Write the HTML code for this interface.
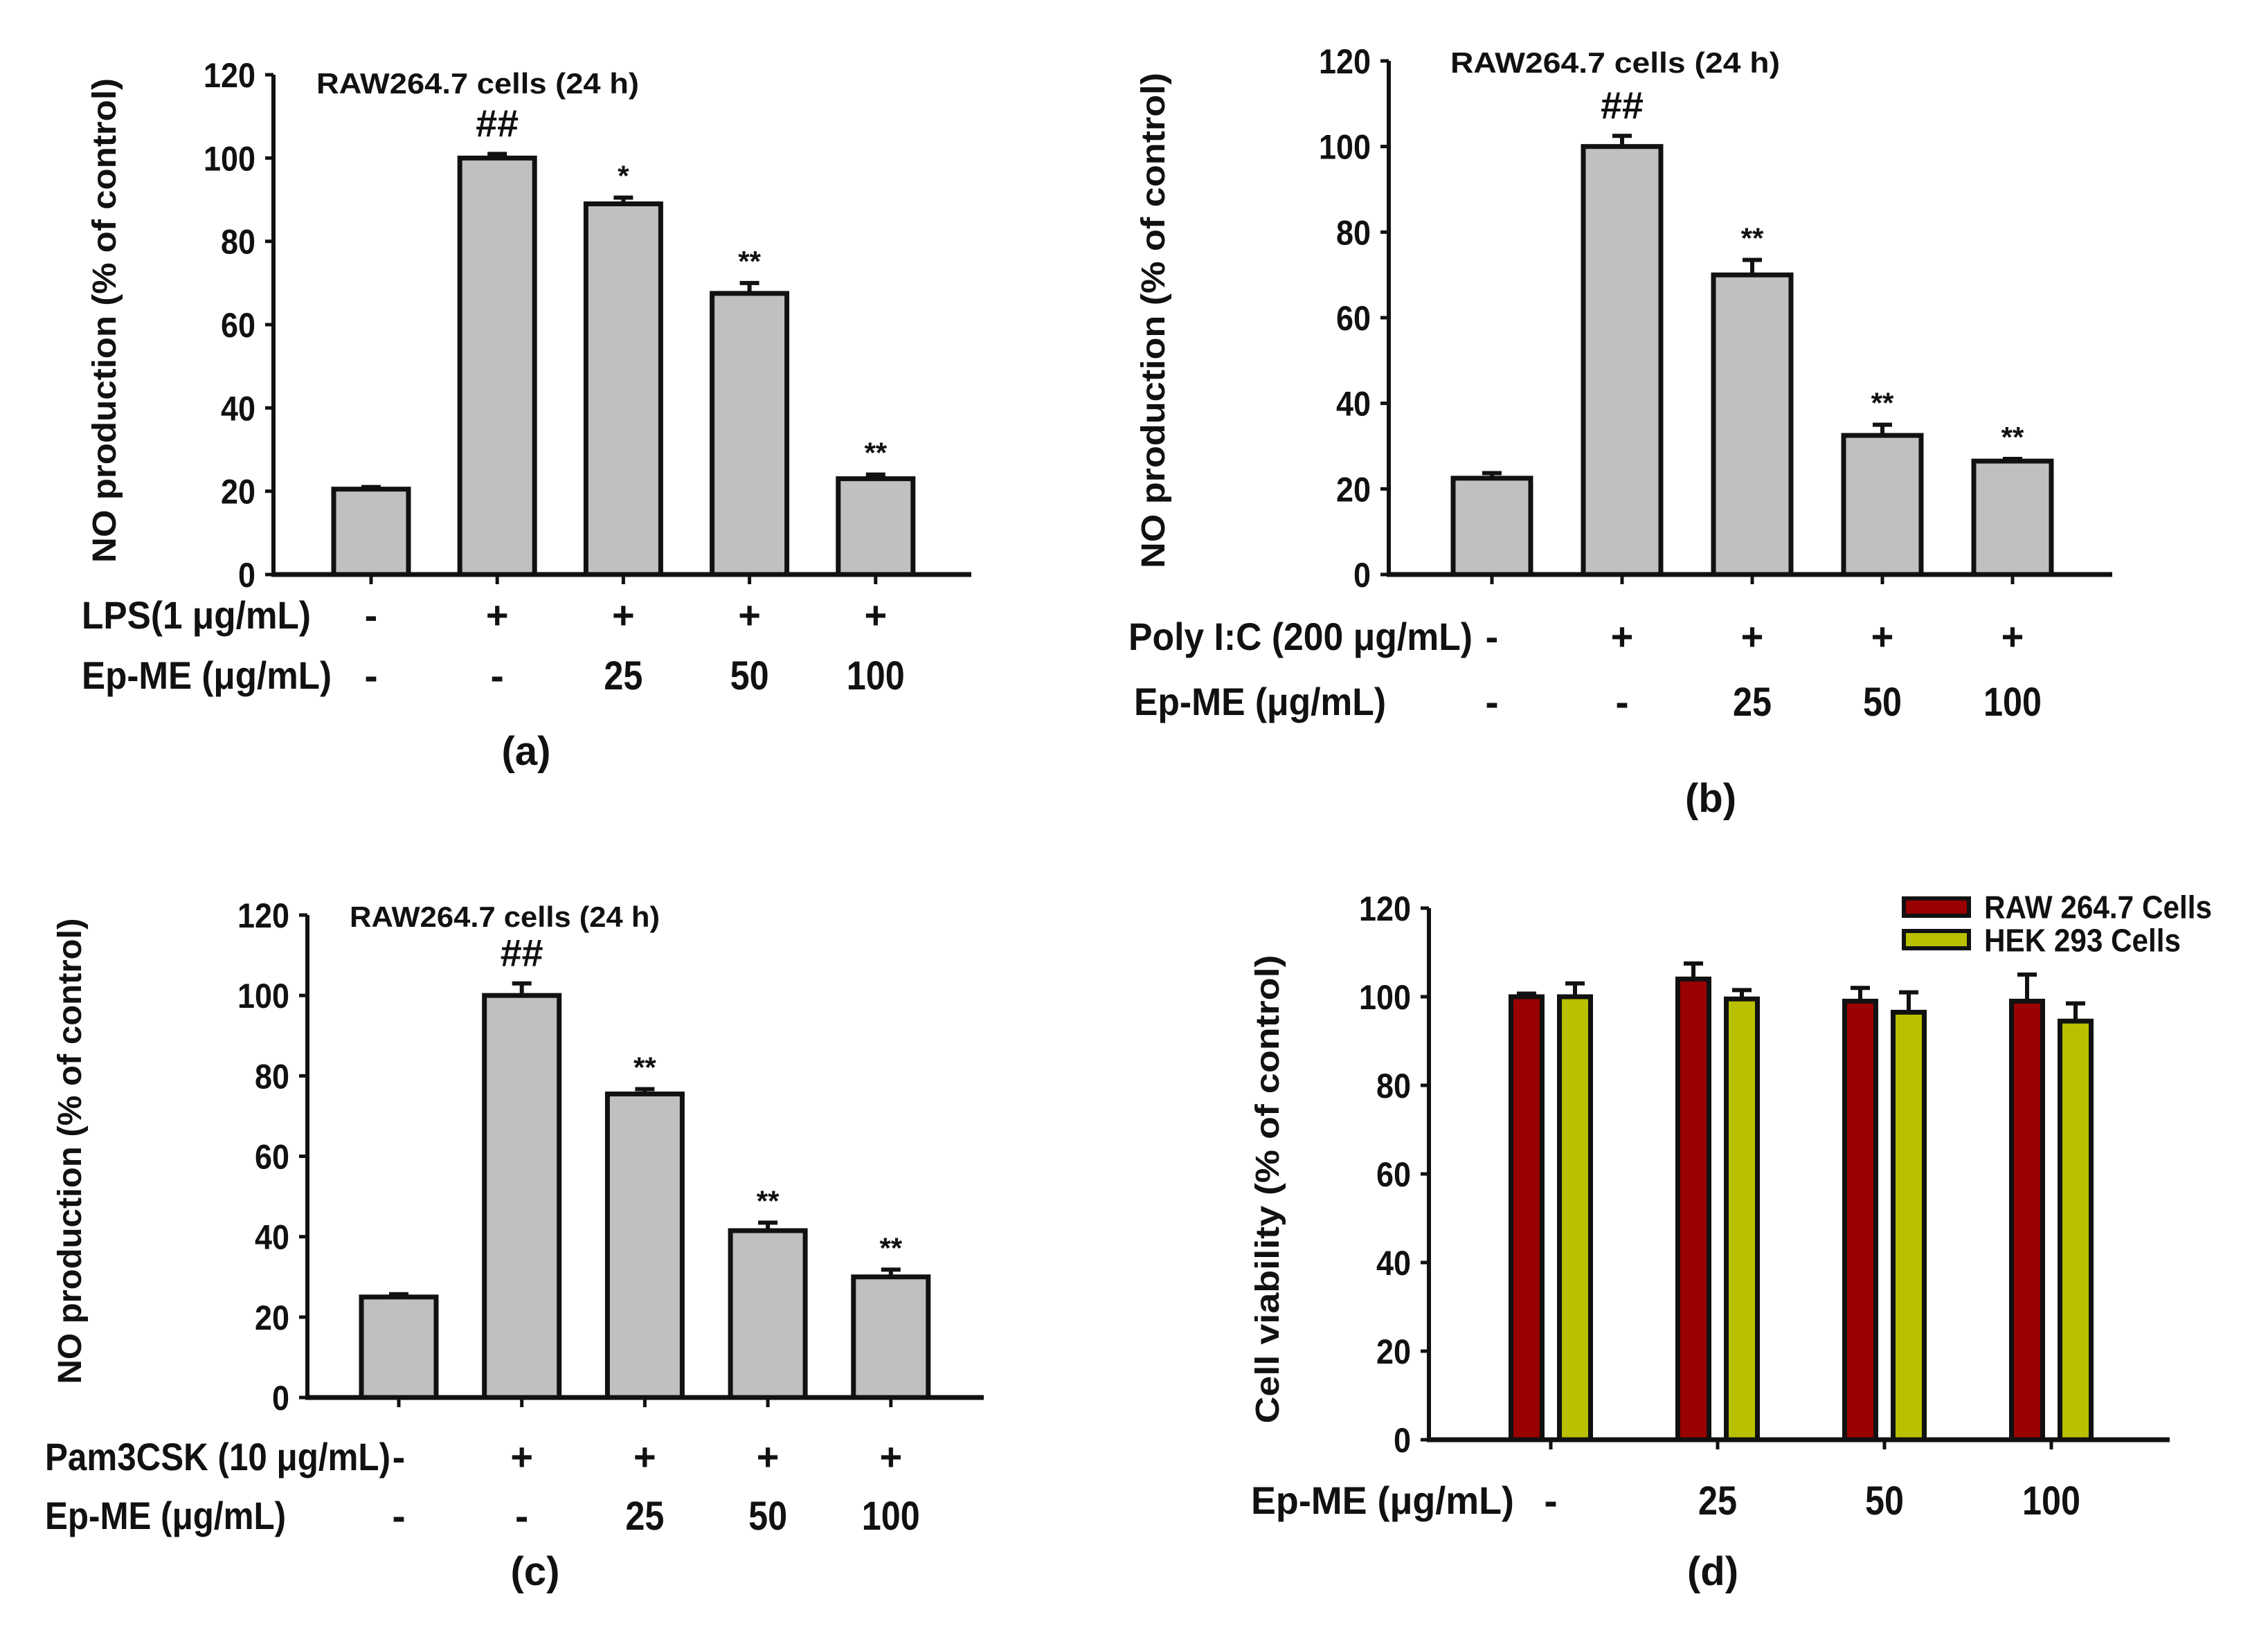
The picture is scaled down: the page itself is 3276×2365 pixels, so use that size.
<!DOCTYPE html>
<html><head><meta charset="utf-8"><style>
html,body{margin:0;padding:0;background:#fff}
svg{display:block}
text{font-family:"Liberation Sans",Arial,sans-serif;font-weight:bold;fill:#111}
</style></head><body>
<svg id="fig" width="3276" height="2365" viewBox="0 0 3276 2365" xmlns="http://www.w3.org/2000/svg"></svg>
<script>
// Panel (a)
const aValues = [20.5, 100, 89, 67.5, 23];
const aErrors = [0.5, 1, 1.5, 2.5, 1];
const aMarks = ["", "##", "*", "**", "**"];
const aRow1 = ["-", "+", "+", "+", "+"];
const aRow2 = ["-", "-", "25", "50", "100"];
// Panel (b)
const bValues = [22.5, 100, 70, 32.5, 26.5];
const bErrors = [1.2, 2.5, 3.5, 2.5, 0.5];
const bMarks = ["", "##", "**", "**", "**"];
const bRow1 = ["-", "+", "+", "+", "+"];
const bRow2 = ["-", "-", "25", "50", "100"];
// Panel (c)
const cValues = [25, 100, 75.5, 41.5, 30];
const cErrors = [0.7, 3, 1.2, 2, 1.8];
const cMarks = ["", "##", "**", "**", "**"];
const cRow1 = ["-", "+", "+", "+", "+"];
const cRow2 = ["-", "-", "25", "50", "100"];
// Panel (d)
const dCategories = ["-", "25", "50", "100"];
const dRaw = [100, 104, 99, 99];
const dRawErr = [0.7, 3.5, 3, 6];
const dHek = [100, 99.5, 96.5, 94.5];
const dHekErr = [3, 2, 4.5, 4];
const yTicks = [0, 20, 40, 60, 80, 100, 120];

const NS = "http://www.w3.org/2000/svg";
const svg = document.getElementById("fig");
function mk(tag, attrs, parent) {
  const e = document.createElementNS(NS, tag);
  for (const k in attrs) e.setAttribute(k, attrs[k]);
  (parent || svg).appendChild(e);
  return e;
}
function txt(parent, s, x, cy, size, anchor, len) {
  const t = mk("text", {x: x, y: cy + size * 0.36, "font-size": size, "text-anchor": anchor || "middle"}, parent);
  if (len) { t.setAttribute("textLength", len); t.setAttribute("lengthAdjust", "spacingAndGlyphs"); }
  t.textContent = s;
  return t;
}

function axes(g, P) {
  const y = v => P.y0 + (P.y120 - P.y0) * v / 120;
  let l = mk("line", {x1: P.ax, y1: P.y0, x2: P.ax, y2: P.y120, stroke: "#111", "stroke-width": 6}, g);
  
  
  l = mk("line", {x1: P.ax - 3, y1: P.y0, x2: P.xend, y2: P.y0, stroke: "#111", "stroke-width": 7}, g);
  
  
  yTicks.forEach(v => {
    const tk = mk("line", {x1: P.ax - 12, y1: y(v), x2: P.ax, y2: y(v), stroke: "#111", "stroke-width": 5}, g);
    
    
    const s = String(v);
    const t = txt(g, s, P.ax - 26, y(v), 50, "end", s.length * 25);
    
    
  });
  const yt = mk("text", {x: 0, y: 0, "font-size": 48, "text-anchor": "middle",
    transform: "translate(" + (P.titleX + 17) + "," + P.titleY + ") rotate(-90)",
    textLength: P.titleLen, lengthAdjust: "spacingAndGlyphs"}, g);
  yt.textContent = P.yTitle;
  
  
  return y;
}

function bar(g, x, w, y, v, e, fill, name) {
  const top = y(v), base = y(0);
  const et = y(v + e);
  const eb = mk("line", {x1: x, y1: top, x2: x, y2: et, stroke: "#111", "stroke-width": 6}, g);
  
  
  const cap = mk("line", {x1: x - 14, y1: et, x2: x + 14, y2: et, stroke: "#111", "stroke-width": 6}, g);
  
  
  const r = mk("rect", {x: x - w / 2, y: top, width: w, height: base - top, fill: fill, stroke: "#111", "stroke-width": 7}, g);
  
  
}

function grayPanel(P, vals, errs, marks, row1, row2) {
  const g = mk("g", {});
  
  
  const y = axes(g, P);
  vals.forEach((v, i) => {
    const x = P.x0 + i * P.step;
    const tk = mk("line", {x1: x, y1: P.y0, x2: x, y2: P.y0 + 14, stroke: "#111", "stroke-width": 5}, g);
    
    
    bar(g, x, P.bw, y, v, errs[i], "#c0c0c0", "bar-" + (i + 1));
    if (marks[i]) {
      const isHash = marks[i] === "##";
      const m = txt(g, marks[i], x, y(v + errs[i]) - (isHash ? 45 : 32), isHash ? 56 : 42, "middle", isHash ? 62 : null);
      
      
    }
    const r1 = txt(g, row1[i], x, P.r1y, 56, "middle");
    
    
    const s2 = row2[i];
    const r2 = txt(g, s2, x, P.r2y, 58, "middle", s2.length > 1 ? s2.length * 28 : null);
    
    
  });
  const t = txt(g, "RAW264.7 cells (24 h)", P.tx, P.ty, 42, "start", P.tlen);
  
  
  let l1 = txt(g, P.row1, P.r1x, P.r1y, 56, "start", P.r1len);
  
  
  let l2 = txt(g, "Ep-ME (\u03bcg/mL)", P.r2x, P.r2y, 56, "start", P.r2len);
  
  
  const pl = txt(g, P.label, P.lx, P.ly, 58, "middle");
  
  
}

grayPanel({name: "panel-a", ax: 395, y0: 830, y120: 108, xend: 1403, x0: 536, step: 182.2, bw: 108,
  yTitle: "NO production (% of control)", titleX: 150, titleY: 463, titleLen: 700,
  tx: 457, ty: 120, tlen: 466, row1: "LPS(1 \u03bcg/mL)", r1x: 118, r1y: 888, r1len: 331,
  r2x: 118, r2y: 975, r2len: 361, label: "(a)", lx: 760, ly: 1084},
  aValues, aErrors, aMarks, aRow1, aRow2);

grayPanel({name: "panel-b", ax: 2006, y0: 830, y120: 88, xend: 3051, x0: 2155, step: 188, bw: 112,
  yTitle: "NO production (% of control)", titleX: 1665, titleY: 463, titleLen: 716,
  tx: 2095, ty: 90, tlen: 476, row1: "Poly I:C (200 \u03bcg/mL)", r1x: 1630, r1y: 919, r1len: 497,
  r2x: 1638, r2y: 1013, r2len: 364, label: "(b)", lx: 2471, ly: 1152},
  bValues, bErrors, bMarks, bRow1, bRow2);

grayPanel({name: "panel-c", ax: 444, y0: 2019, y120: 1322, xend: 1421, x0: 576, step: 177.7, bw: 108,
  yTitle: "NO production (% of control)", titleX: 100, titleY: 1663, titleLen: 673,
  tx: 505, ty: 1324, tlen: 448, row1: "Pam3CSK (10 \u03bcg/mL)", r1x: 65, r1y: 2104, r1len: 499,
  r2x: 65, r2y: 2189, r2len: 348, label: "(c)", lx: 773, ly: 2269},
  cValues, cErrors, cMarks, cRow1, cRow2);

// Panel (d)
(function () {
  const P = {ax: 2064, y0: 2080, y120: 1312, xend: 3134, yTitle: "Cell viability (% of control)",
    titleX: 1830, titleY: 1718, titleLen: 677};
  const g = mk("g", {});
  
  
  const y = axes(g, P);
  const x0 = 2240, step = 241, off = 35, bw = 45;
  dCategories.forEach((c, i) => {
    const x = x0 + i * step;
    const tk = mk("line", {x1: x, y1: P.y0, x2: x, y2: P.y0 + 14, stroke: "#111", "stroke-width": 5}, g);
    
    
    bar(g, x - off, bw, y, dRaw[i], dRawErr[i], "#990000", "raw-bar-" + (i + 1));
    bar(g, x + off, bw, y, dHek[i], dHekErr[i], "#b8c000", "hek-bar-" + (i + 1));
    const t = txt(g, c, x, 2167, 58, "middle", c.length > 1 ? c.length * 28 : null);
    
    
  });
  let l = txt(g, "Ep-ME (\u03bcg/mL)", 1807, 2167, 56, "start", 380);
  
  
  const lg = mk("g", {}, g);
  
  
  let s = mk("rect", {x: 2750, y: 1298, width: 94, height: 25, fill: "#990000", stroke: "#111", "stroke-width": 6}, lg);
  
  
  s = mk("rect", {x: 2750, y: 1345, width: 94, height: 25, fill: "#b8c000", stroke: "#111", "stroke-width": 6}, lg);
  
  
  l = txt(lg, "RAW 264.7 Cells", 2866, 1310, 46, "start", 329);
  
  
  l = txt(lg, "HEK 293 Cells", 2866, 1358, 46, "start", 284);
  
  
  l = txt(g, "(d)", 2474, 2269, 58, "middle");
  
  
})();
</script>
</body></html>
